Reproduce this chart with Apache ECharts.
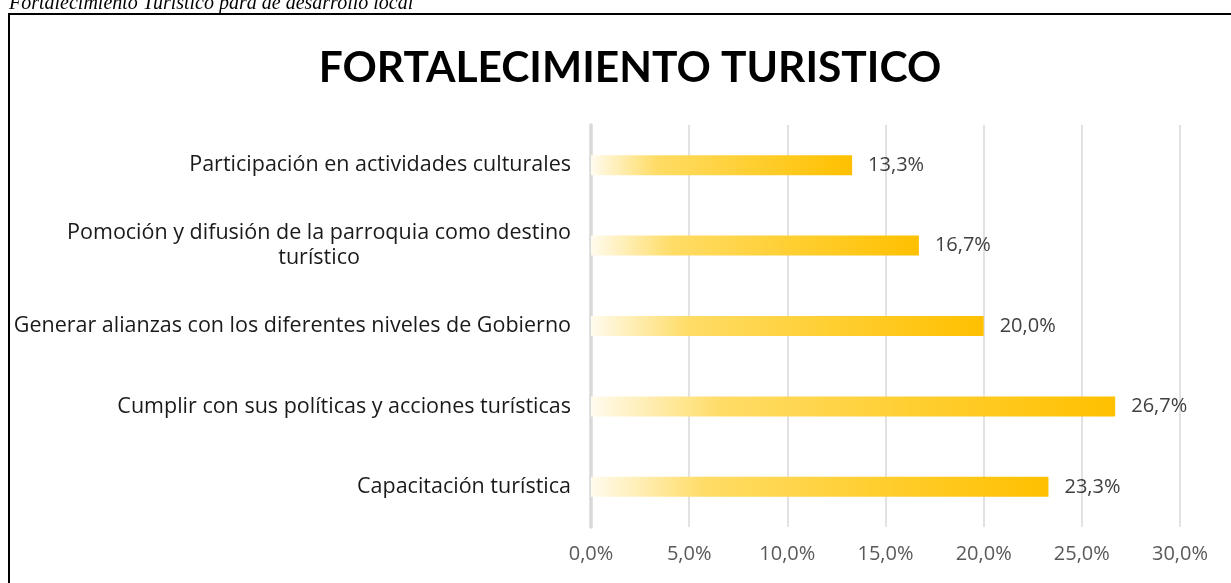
<!DOCTYPE html>
<html lang="es">

<head>
    <meta charset="UTF-8">
    <title>Fortalecimiento turistico</title>
    <script src="https://cdn.jsdelivr.net/npm/echarts@6/dist/echarts.min.js"></script>
    <style>
        html, body { margin: 0; padding: 0; background: #fff; }
    </style>
</head>

<body>
    <div id="main" style="width: 1231px;height:583px;"></div>
</body>
<script type="text/javascript">

    // categorias, de abajo hacia arriba (como en el grafico de barras horizontal)
    var categorias = [
        'Capacitación turística',
        'Cumplir con sus políticas y acciones turísticas',
        'Generar alianzas con los diferentes niveles de Gobierno',
        'Pomoción y difusión de la parroquia como destino\nturístico',
        'Participación en actividades culturales'
    ];
    // porcentajes
    var valores = [23.3, 26.7, 20.0, 16.7, 13.3];
    // ticks del eje x
    var ticksX = [0, 5, 10, 15, 20, 25, 30];

    var titulo = 'FORTALECIMIENTO TURISTICO';
    var leyendaArriba = 'Fortalecimiento Turístico para de desarrollo local';

    function pct(v) {
        return Number(v).toFixed(1).replace('.', ',') + '%';
    }

    var myChart = echarts.init(document.getElementById('main'));

    option = {
        animation: false,
        backgroundColor: '#fff',
        title: {
            text: titulo,
            left: 625,
            textAlign: 'center',
            top: 42,
            textStyle: {
                fontFamily: 'Lato',
                fontWeight: 'bold',
                fontSize: 42.5,
                color: '#000'
            }
        },
        graphic: [
            {
                type: 'text',
                x: 9,
                y: 14,
                style: {
                    text: leyendaArriba,
                    fontFamily: 'Liberation Serif',
                    fontStyle: 'italic',
                    fontSize: 20,
                    fill: '#000',
                    verticalAlign: 'bottom'
                }
            },
            {
                type: 'rect',
                shape: { x: 9, y: 14, width: 1260, height: 620 },
                style: { fill: 'none', stroke: '#000', lineWidth: 2 },
                silent: true
            }
        ],
        grid: {
            left: 591,
            right: 51,
            top: 125,
            bottom: 56
        },
        xAxis: {
            type: 'value',
            min: ticksX[0],
            max: ticksX[ticksX.length - 1],
            interval: 5,
            axisLine: { show: false },
            axisTick: { show: false },
            splitLine: { lineStyle: { color: '#d9d9d9', width: 1.5 } },
            axisLabel: {
                formatter: pct,
                color: '#595959',
                fontFamily: 'Open Sans',
                fontSize: 20,
                margin: 17
            }
        },
        yAxis: {
            type: 'category',
            data: categorias,
            axisLine: { lineStyle: { color: '#d9d9d9', width: 3.5 } },
            axisTick: { show: false },
            axisLabel: {
                color: '#1a1a1a',
                fontFamily: 'Open Sans',
                fontSize: 21.5,
                margin: 20,
                formatter: function (v) {
                    return v.split('\n').map(function (s) { return '{c|' + s + '}'; }).join('\n');
                },
                rich: {
                    c: {
                        align: 'center',
                        color: '#1a1a1a',
                        fontFamily: 'Open Sans',
                        fontSize: 21.5,
                        lineHeight: 25
                    }
                }
            }
        },
        series: [{
            type: 'bar',
            data: valores,
            barWidth: 20,
            itemStyle: {
                color: new echarts.graphic.LinearGradient(0, 0, 1, 0, [
                    { offset: 0, color: '#fffbee' },
                    { offset: 0.25, color: '#ffdc66' },
                    { offset: 0.6, color: '#ffcf33' },
                    { offset: 1, color: '#ffc000' }
                ])
            },
            label: {
                show: true,
                position: 'right',
                distance: 16,
                formatter: function (p) { return pct(p.value); },
                color: '#404040',
                fontFamily: 'Open Sans',
                fontSize: 20
            }
        }]
    };

    myChart.setOption(option);

</script>

</html>
